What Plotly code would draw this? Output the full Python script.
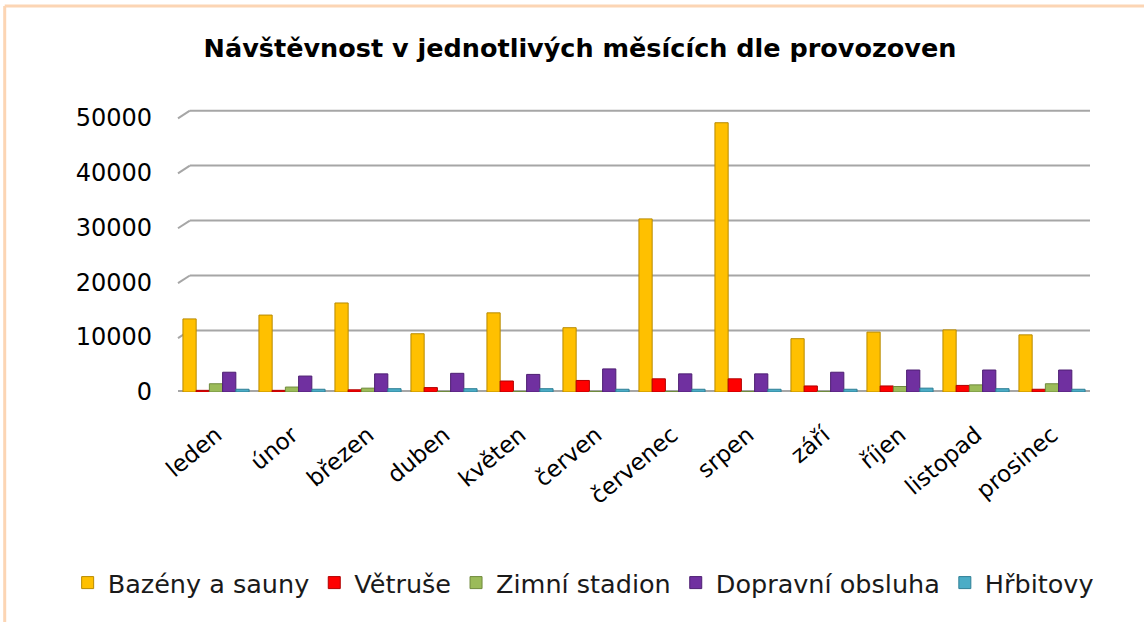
import plotly.graph_objects as go

months = ["leden", "únor", "březen", "duben", "květen", "červen",
          "červenec", "srpen", "září", "říjen", "listopad", "prosinec"]

bazeny = [13300, 14000, 16200, 10600, 14400, 11700, 31500, 49000, 9700, 10900, 11300, 10400]
vetruse = [300, 300, 400, 800, 2000, 2100, 2400, 2400, 1100, 1100, 1200, 500]
stadion = [1500, 900, 700, 100, 100, 100, 100, 100, 100, 1000, 1300, 1500]
doprava = [3600, 2900, 3300, 3400, 3200, 4200, 3300, 3300, 3600, 4000, 4000, 4000]
hrbitovy = [500, 500, 600, 600, 600, 500, 500, 500, 500, 700, 600, 500]

series_names = ["Bazény a sauny", "Větruše", "Zimní stadion", "Dopravní obsluha", "Hřbitovy"]
series_values = [bazeny, vetruse, stadion, doprava, hrbitovy]
colors = ["#FFC000", "#FF0000", "#9BBB59", "#7030A0", "#4BACC6"]
edges = ["#B88A00", "#B00000", "#6F8A3C", "#4E1F72", "#2F7F95"]

y_ticks = [0, 10000, 20000, 30000, 40000, 50000]

fig = go.Figure()
for name, vals, c, e in zip(series_names, series_values, colors, edges):
    fig.add_trace(go.Bar(x=months, y=vals, name=name,
                         marker=dict(color=c, line=dict(color=e, width=1))))

grid_col = "#A6A6A6"
shapes = []
for v in y_ticks:
    if v == 0:
        shapes.append(dict(type="line", xref="paper", yref="y", x0=0, x1=1, y0=0, y1=0,
                           line=dict(color=grid_col, width=4), layer="below"))
    else:
        shapes.append(dict(type="line", xref="paper", yref="y", x0=0.013, x1=1,
                           y0=v + 1200, y1=v + 1200, line=dict(color=grid_col, width=2), layer="below"))
        shapes.append(dict(type="line", xref="paper", yref="y", x0=0, x1=0.013,
                           y0=v - 200, y1=v + 1200, line=dict(color=grid_col, width=2), layer="below"))
# frame (top and left edges)
shapes.append(dict(type="line", xref="paper", yref="paper", x0=-0.19, x1=1.1, y0=1.364, y1=1.364,
                   line=dict(color="#FCD5B4", width=3)))
shapes.append(dict(type="line", xref="paper", yref="paper", x0=-0.19, x1=-0.19, y0=-0.9, y1=1.364,
                   line=dict(color="#FCD5B4", width=3)))

fig.update_layout(shapes=shapes)

fig.update_layout(
    width=1144, height=622,
    paper_bgcolor="white", plot_bgcolor="white",
    margin=dict(l=178, r=54, t=109, b=230),
    barmode="group", bargap=0.13, bargroupgap=0.0,
    title=dict(text="<b>Návštěvnost v jednotlivých měsících dle provozoven</b>",
               x=0.507, xanchor="center", y=0.923, yanchor="middle",
               font=dict(family="DejaVu Sans", size=25.5, color="black")),
    legend=dict(orientation="h", x=-0.121, xanchor="left", y=-0.675, yanchor="middle",
                font=dict(family="DejaVu Sans", size=25.5, color="#1a1a1a"),
                itemwidth=30, traceorder="normal"),
    xaxis=dict(tickangle=-40, tickfont=dict(family="DejaVu Sans", size=23, color="black"),
               showgrid=False, showline=False, ticks="", ticklabelstandoff=24),
    yaxis=dict(range=[0, 51500], tickvals=y_ticks, ticktext=[str(v) for v in y_ticks],
               tickfont=dict(family="DejaVu Sans", size=24, color="black"),
               showgrid=False, zeroline=False, showline=False, ticks="",
               ticklabelstandoff=25),
)

fig.write_html("out.html", config={"displayModeBar": False},
               post_script="document.body.style.margin='0';")
